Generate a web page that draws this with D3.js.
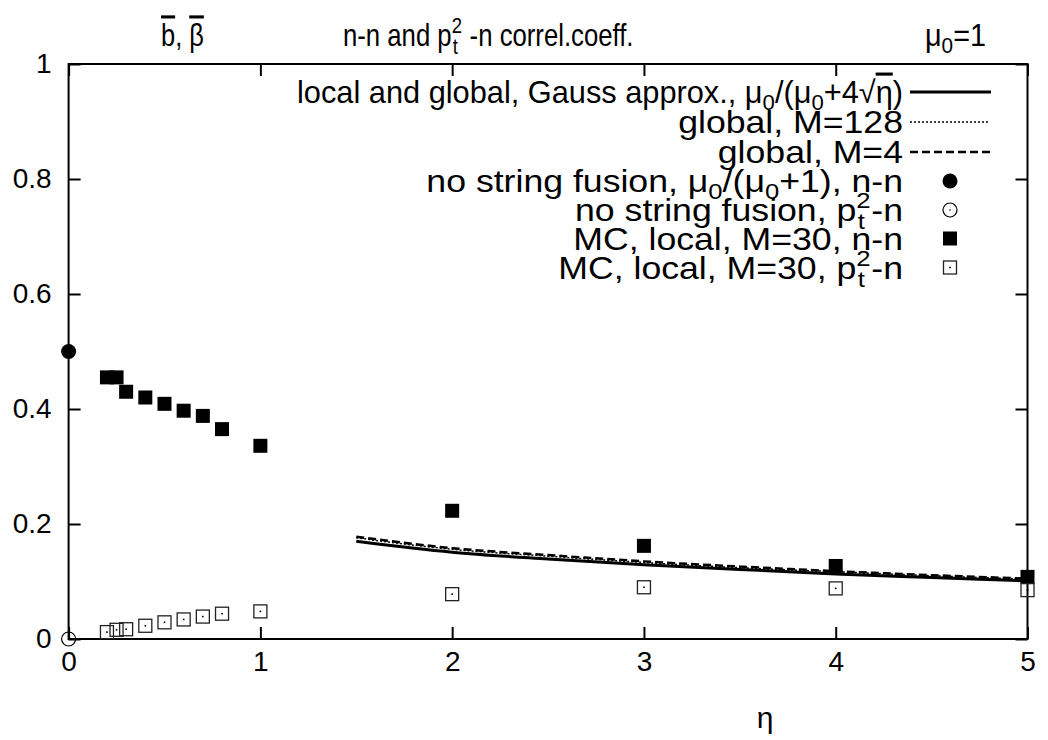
<!DOCTYPE html>
<html><head><meta charset="utf-8">
<script src="https://cdn.jsdelivr.net/npm/d3@7"></script>
<style>
body{margin:0;background:#fff;}
text{font-family:"Liberation Sans",Arial,sans-serif;fill:#000;}
</style></head>
<body><svg id="c" width="1048" height="740"></svg>
<script>
// ---- data ----
const xTicks = [0,1,2,3,4,5];
const xTickLabels = ["0","1","2","3","4","5"];
const yTicks = [0,0.2,0.4,0.6,0.8,1];
const yTickLabels = ["0","0.2","0.4","0.6","0.8","1"];

const curveEta   = [1.5,2,2.5,3,3.5,4,4.5,5];
const gaussVals  = [0.170,0.151,0.139,0.129,0.121,0.113,0.107,0.101];
const m128Vals   = [0.176,0.156,0.144,0.133,0.124,0.117,0.110,0.104];
const m4Vals     = [0.178,0.158,0.146,0.135,0.126,0.118,0.111,0.105];

const noFusionNN = [{eta:0, v:0.5}];
const noFusionPT = [{eta:0, v:0.0}];

const mcEta = [0.2,0.25,0.3,0.4,0.5,0.6,0.7,0.8,1,2,3,4,5];
const mcNN  = [0.455,0.455,0.430,0.420,0.409,0.397,0.388,0.365,0.336,0.223,0.162,0.127,0.108];
const mcPT  = [0.012,0.016,0.017,0.023,0.029,0.034,0.039,0.044,0.048,0.078,0.090,0.088,0.085];

// ---- setup ----
const svg = d3.select("#c");
const x = d3.scaleLinear().domain([0,5]).range([68.6,1027.5]);
const y = d3.scaleLinear().domain([0,1]).range([639,64]);
const TICKFS = 28, LFS = 31, LSX = 1.15, TFS = 31, TSX = 0.83;

// axes
const ax = svg.append("g");
ax.append("g").attr("transform",`translate(0,${y(0)})`)
  .call(d3.axisBottom(x).tickValues(xTicks).tickFormat((d,i)=>xTickLabels[i]).tickSizeInner(-12).tickSizeOuter(0).tickPadding(12));
ax.append("g").attr("transform",`translate(0,${y(1)})`)
  .call(d3.axisTop(x).tickValues(xTicks).tickFormat("").tickSizeInner(-12).tickSizeOuter(0));
ax.append("g").attr("transform",`translate(${x(0)},0)`)
  .call(d3.axisLeft(y).tickValues(yTicks).tickFormat((d,i)=>yTickLabels[i]).tickSizeInner(-12).tickSizeOuter(0).tickPadding(17));
ax.append("g").attr("transform",`translate(${x(5)},0)`)
  .call(d3.axisRight(y).tickValues(yTicks).tickFormat("").tickSizeInner(-12).tickSizeOuter(0));
ax.selectAll(".domain").remove();
ax.selectAll(".tick line").attr("stroke","#000").attr("stroke-width",2);
ax.selectAll(".tick text").attr("font-size",TICKFS).attr("font-family","Liberation Sans, Arial, sans-serif").attr("fill","#000");
svg.append("rect").attr("x",x(0)).attr("y",y(1)).attr("width",x(5)-x(0)).attr("height",y(0)-y(1))
  .attr("fill","none").attr("stroke","#000").attr("stroke-width",2);

// curves
const line = d3.line().x(d=>x(d[0])).y(d=>y(d[1])).curve(d3.curveMonotoneX);
const mk = vals => curveEta.map((e,i)=>[e,vals[i]]);
svg.append("path").attr("d",line(mk(gaussVals))).attr("fill","none").attr("stroke","#000").attr("stroke-width",3);
svg.append("path").attr("d",line(mk(m128Vals))).attr("fill","none").attr("stroke","#000").attr("stroke-width",1.5).attr("stroke-dasharray","2,2");
svg.append("path").attr("d",line(mk(m4Vals))).attr("fill","none").attr("stroke","#000").attr("stroke-width",2.5).attr("stroke-dasharray","8,4");

// markers
function filledCircle(g,cx,cy){ g.append("circle").attr("cx",cx).attr("cy",cy).attr("r",7.5).attr("fill","#000"); }
function openCircle(g,cx,cy){ g.append("circle").attr("cx",cx).attr("cy",cy).attr("r",7).attr("fill","none").attr("stroke","#000").attr("stroke-width",1.2);
  g.append("circle").attr("cx",cx).attr("cy",cy).attr("r",0.8).attr("fill","#000"); }
function filledSquare(g,cx,cy){ g.append("rect").attr("x",cx-7).attr("y",cy-7).attr("width",14).attr("height",14).attr("fill","#000"); }
function openSquare(g,cx,cy){ g.append("rect").attr("x",cx-6.5).attr("y",cy-6.5).attr("width",13).attr("height",13).attr("fill","none").attr("stroke","#222").attr("stroke-width",1.3);
  g.append("rect").attr("x",cx-0.8).attr("y",cy-0.8).attr("width",1.6).attr("height",1.6).attr("fill","#000"); }

const pts = svg.append("g");
noFusionNN.forEach(d=>filledCircle(pts,x(d.eta),y(d.v)));
noFusionPT.forEach(d=>openCircle(pts,x(d.eta),y(d.v)));
mcEta.forEach((e,i)=>filledSquare(pts,x(e),y(mcNN[i])));
mcEta.forEach((e,i)=>openSquare(pts,x(e),y(mcPT[i])));

// rich text helper
function rich(t, fs, parts){
  const sfs = fs*0.72;
  parts.forEach(p=>{
    if(p.stack){
      t.append("tspan").text(p.sup).attr("font-size",sfs).attr("dy",-fs*0.42);
      t.append("tspan").text(p.sub).attr("font-size",sfs).attr("dy",fs*0.68).attr("dx",-sfs*0.5);
      t.append("tspan").text(p.after).attr("dy",-fs*0.26).attr("dx",sfs*0.25);
    } else if(p.sub){
      t.append("tspan").text(p.t).attr("font-size",sfs).attr("dy",fs*0.22);
      t.append("tspan").text(p.after).attr("dy",-fs*0.22);
    } else {
      const s = t.append("tspan").text(p.t);
      if(p.ov) s.style("text-decoration","overline");
    }
  });
  return t;
}

// legend
const lg = svg.append("g");
const textX = 903, symX = 950, rowY = [92,122,152,181,210,238.5,267.5];
function ltext(i, parts){
  const t = lg.append("text").attr("transform",`translate(${textX},${rowY[i]+LFS*0.36}) scale(${LSX},1)`)
    .attr("text-anchor","end").attr("font-size",LFS);
  return rich(t, LFS, parts);
}
const r0 = ltext(0,[{t:"local and global, Gauss approx., μ"},{sub:1,t:"0",after:"/(μ"},{sub:1,t:"0",after:"+4√"},{t:"η",ov:1},{t:")"}]);
r0.attr("textLength",606/LSX).attr("lengthAdjust","spacingAndGlyphs");
ltext(1,[{t:"global, M=128"}]);
ltext(2,[{t:"global, M=4"}]);
ltext(3,[{t:"no string fusion, μ"},{sub:1,t:"0",after:"/(μ"},{sub:1,t:"0",after:"+1), n-n"}]);
ltext(4,[{t:"no string fusion,  p"},{stack:1,sup:"2",sub:"t",after:"-n"}]);
ltext(5,[{t:"MC, local, M=30, n-n"}]);
ltext(6,[{t:"MC, local, M=30, p"},{stack:1,sup:"2",sub:"t",after:"-n"}]);
lg.append("line").attr("x1",910).attr("x2",991).attr("y1",rowY[0]).attr("y2",rowY[0]).attr("stroke","#000").attr("stroke-width",3);
lg.append("line").attr("x1",910).attr("x2",988).attr("y1",rowY[1]).attr("y2",rowY[1]).attr("stroke","#000").attr("stroke-width",1.5).attr("stroke-dasharray","2,2");
lg.append("line").attr("x1",910).attr("x2",991).attr("y1",rowY[2]).attr("y2",rowY[2]).attr("stroke","#000").attr("stroke-width",2.5).attr("stroke-dasharray","8,4");
filledCircle(lg,symX,rowY[3]);
openCircle(lg,symX,rowY[4]);
filledSquare(lg,symX,rowY[5]);
openSquare(lg,symX,rowY[6]);

// titles
const t1 = svg.append("text").attr("transform","translate(161,46) scale(0.82,1)").attr("font-size",31);
t1.append("tspan").text("b").style("text-decoration","overline");
t1.append("tspan").text(", ");
t1.append("tspan").text("β").style("text-decoration","overline");
const t2 = svg.append("text").attr("transform",`translate(343,46) scale(${TSX},1)`).attr("font-size",TFS);
rich(t2, TFS, [{t:"n-n and p"},{stack:1,sup:"2",sub:"t",after:" -n correl.coeff."}]);
const t3 = svg.append("text").attr("transform","translate(925,46) scale(0.93,1)").attr("font-size",31);
rich(t3, 31, [{t:"μ"},{sub:1,t:"0",after:"=1"}]);
svg.append("text").attr("x",765).attr("y",728).attr("text-anchor","middle").attr("font-size",30).text("η");
</script></body></html>
